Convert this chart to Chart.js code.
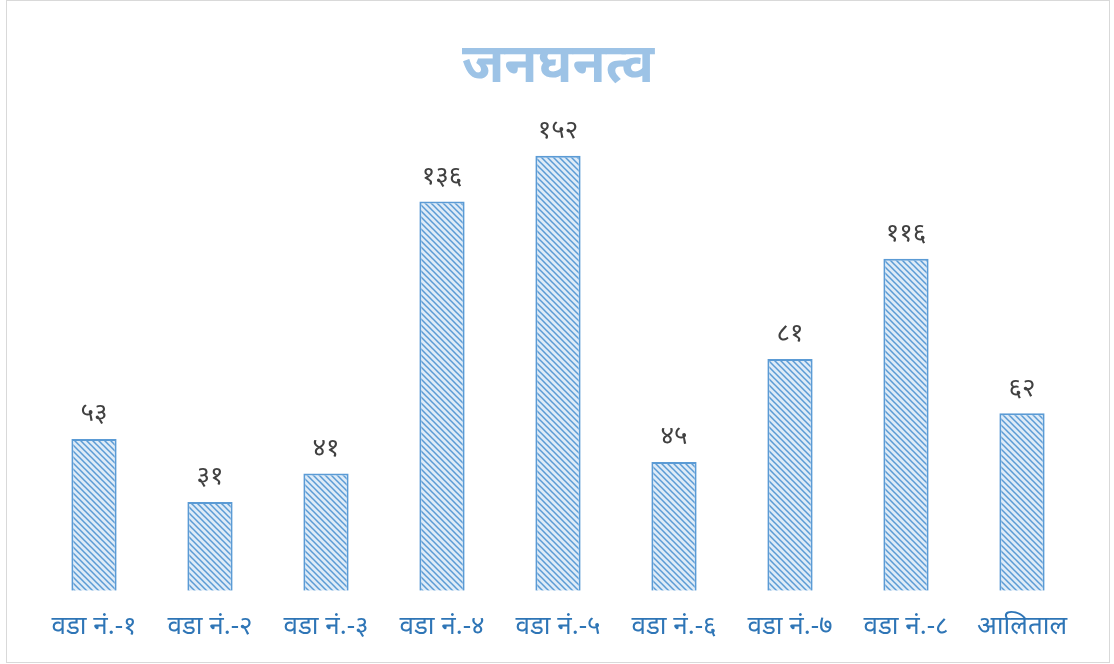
<!DOCTYPE html>
<html>
<head>
<meta charset="utf-8">
<script src="https://cdn.jsdelivr.net/npm/chart.js@4/dist/chart.umd.min.js"></script>
<style>
  body { margin: 0; background: #fff; }
  #frame { position: absolute; left: 6px; top: 0; width: 1102px; height: 661px; border: 1px solid #d9d9d9; }
</style>
</head>
<body>
<div id="frame"><canvas id="densityChart" width="1102" height="661"></canvas></div>
<script>
var wards = ['वडा नं.-१', 'वडा नं.-२', 'वडा नं.-३', 'वडा नं.-४', 'वडा नं.-५', 'वडा नं.-६', 'वडा नं.-७', 'वडा नं.-८', 'आलिताल'];
var density = [53, 31, 41, 136, 152, 45, 81, 116, 62];
var chartTitle = 'जनघनत्व';

var font = "'Noto Sans', 'DejaVu Sans', sans-serif";

// devanagari digits for the value labels
function toNepali(n) {
  var digits = '०१२३४५६७८९';
  return String(n).replace(/[0-9]/g, function(d) { return digits[+d]; });
}

// hatch fill like the excel pattern
function hatch() {
  var c = document.createElement('canvas');
  c.width = 6; c.height = 6;
  var g = c.getContext('2d');
  g.fillStyle = '#deebf7';
  g.fillRect(0, 0, 6, 6);
  g.strokeStyle = '#5b9bd5';
  g.lineWidth = 1.5;
  g.beginPath();
  g.moveTo(-1, -1); g.lineTo(7, 7);
  g.moveTo(-4, 2); g.lineTo(4, 10);
  g.moveTo(2, -4); g.lineTo(10, 4);
  g.stroke();
  return g.createPattern(c, 'repeat');
}

var valueLabels = {
  id: 'valueLabels',
  afterDatasetsDraw: function(chart) {
    var ctx = chart.ctx;
    var meta = chart.getDatasetMeta(0);
    ctx.save();
    ctx.fillStyle = '#404040';
    ctx.font = '26px ' + font;
    ctx.textAlign = 'center';
    ctx.textBaseline = 'bottom';
    meta.data.forEach(function(bar, i) {
      ctx.fillText(toNepali(density[i]), bar.x, bar.y - 12);
    });
    ctx.restore();
  }
};

new Chart(document.getElementById('densityChart'), {
  type: 'bar',
  data: {
    labels: wards,
    datasets: [{
      data: density,
      backgroundColor: hatch(),
      borderColor: '#5b9bd5',
      borderWidth: 2,
      categoryPercentage: 1,
      barPercentage: 0.39
    }]
  },
  options: {
    responsive: false,
    animation: false,
    layout: { padding: { left: 29, right: 29, bottom: 0, top: 0 } },
    plugins: {
      legend: { display: false },
      tooltip: { enabled: false },
      title: {
        display: true,
        text: chartTitle,
        color: '#9dc3e6',
        font: { family: font, size: 54, weight: 'bold' },
        padding: { top: 33, bottom: 34 }
      }
    },
    scales: {
      x: {
        grid: { display: false, drawTicks: false },
        border: { display: false },
        ticks: { color: '#2e75b6', font: { family: font, size: 26 }, padding: 20, maxRotation: 0, autoSkip: false }
      },
      y: {
        display: false,
        min: 0,
        max: 160
      }
    }
  },
  plugins: [valueLabels]
});
</script>
</body>
</html>
